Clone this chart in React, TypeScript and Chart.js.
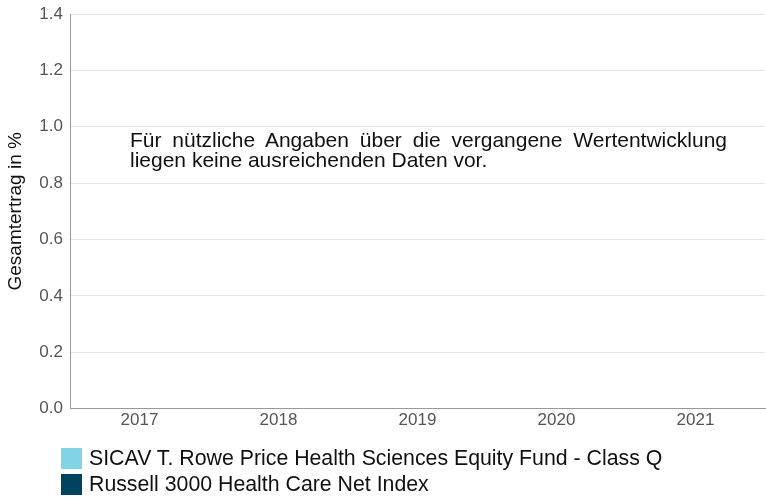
import React, { useEffect, useRef } from "react";
import { Chart, registerables } from "chart.js";

Chart.register(...registerables);

const categories = ["2017", "2018", "2019", "2020", "2021"];
const fundValues: (number | null)[] = [null, null, null, null, null];
const indexValues: (number | null)[] = [null, null, null, null, null];
const seriesNames = [
  "SICAV T. Rowe Price Health Sciences Equity Fund - Class Q",
  "Russell 3000 Health Care Net Index",
];
const seriesColors = ["#80d4e6", "#00435f"];
const yTicks = [0, 0.2, 0.4, 0.6, 0.8, 1.0, 1.2, 1.4];
const yTitle = "Gesamtertrag in %";
const noDataText =
  "Für nützliche Angaben über die vergangene Wertentwicklung liegen keine ausreichenden Daten vor.";

const FONT = "Arial, 'Liberation Sans', sans-serif";

export default function App() {
  const ref = useRef<HTMLCanvasElement | null>(null);

  useEffect(() => {
    document.body.style.margin = "0";
    const ctx = ref.current!;
    const chart = new Chart(ctx, {
      type: "bar",
      data: {
        labels: categories,
        datasets: [
          { label: seriesNames[0], data: fundValues, backgroundColor: seriesColors[0] },
          { label: seriesNames[1], data: indexValues, backgroundColor: seriesColors[1] },
        ],
      },
      options: {
        animation: false,
        responsive: false,
        maintainAspectRatio: false,
        layout: { padding: { top: 0, right: 1, left: 0, bottom: 64 } },
        plugins: {
          tooltip: { enabled: false },
          legend: { display: false },
        },
        scales: {
          x: {
            grid: { display: false, drawTicks: false },
            border: { color: "#999", width: 1 },
            ticks: {
              color: "#555",
              padding: 2,
              font: { family: FONT, size: 17 },
            },
          },
          y: {
            min: 0,
            max: 1.4,
            afterBuildTicks: (axis: any) => {
              axis.ticks = yTicks.map((v) => ({ value: v }));
            },
            afterFit: (axis: any) => {
              axis.width = 70;
              axis.paddingTop = 14;
            },
            grid: { color: "#e6e6e6", drawTicks: false },
            border: { color: "#999", width: 1 },
            title: {
              display: true,
              text: yTitle,
              color: "#111",
              padding: { top: 4, bottom: 0 },
              font: { family: FONT, size: 19 },
            },
            ticks: {
              color: "#555",
              padding: 7,
              font: { family: FONT, size: 17 },
              callback: (v: any) => Number(v).toFixed(1),
            },
          },
        },
      },
    });
    return () => chart.destroy();
  }, []);

  return (
    <div style={{ position: "fixed", left: 0, top: 0, width: 766, height: 497 }}>
      <canvas ref={ref} width={766} height={497} style={{ width: 766, height: 497 }} />
      <div
        style={{
          position: "absolute",
          left: 130,
          top: 130,
          width: 597,
          fontFamily: FONT,
          fontSize: 21,
          lineHeight: "20px",
          color: "#111",
          textAlign: "justify",
        }}
      >
        {noDataText}
      </div>
      <div style={{ position: "absolute", left: 61, top: 445, fontFamily: FONT, fontSize: 21.3, color: "#111" }}>
        {seriesNames.map((name, i) => (
          <div key={name} style={{ display: "flex", alignItems: "center", height: 26 }}>
            <span style={{ display: "inline-block", width: 21, height: 21, background: seriesColors[i], marginRight: 7 }} />
            <span style={{ lineHeight: "26px" }}>{name}</span>
          </div>
        ))}
      </div>
    </div>
  );
}
